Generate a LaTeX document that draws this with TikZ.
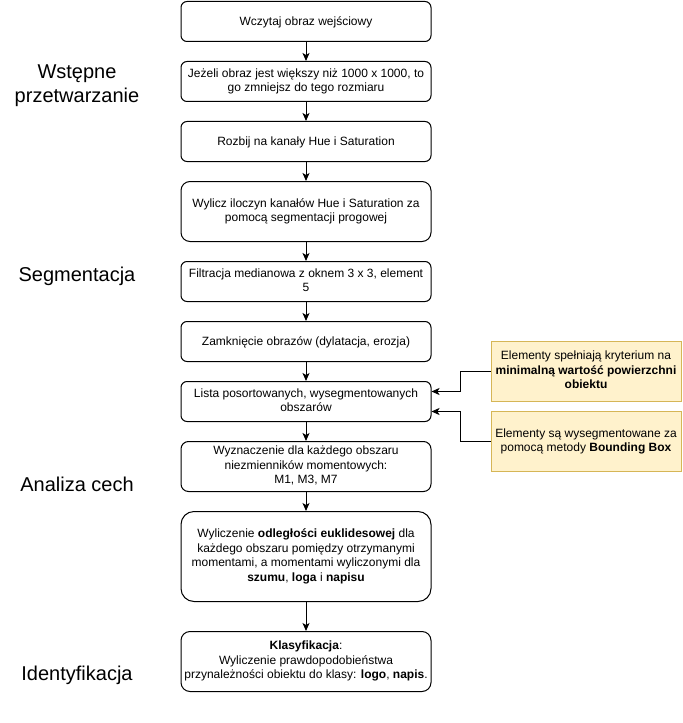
\documentclass[tikz,border=0pt]{standalone}
\usepackage{fontspec}
\setmainfont{Liberation Sans}
\usepackage{tikz}
\usetikzlibrary{arrows.meta,positioning}

\definecolor{notefill}{HTML}{FFF2CC}
\definecolor{notedraw}{HTML}{D6B656}

\begin{document}
\begin{tikzpicture}[x=1bp, y=-1bp, line width=1bp,
        line box/.style = {execute at begin node={\rule{0pt}{11.4bp}},
                           execute at end node={\rule[-3bp]{0pt}{0pt}}},
        step box/.style = {draw, rounded corners=6bp, minimum width=250bp, minimum height=40bp,
                           align=center, inner sep=2bp, line box, font=\fontsize{12bp}{14.4bp}\selectfont},
        note box/.style = {draw=notedraw, fill=notefill, minimum width=190bp, minimum height=60bp,
                           align=center, inner sep=2bp, line box, font=\fontsize{12bp}{14.4bp}\selectfont},
        stage/.style = {align=center, anchor=base, font=\fontsize{20bp}{24bp}\selectfont},
        arr/.style = {-{Stealth[length=8bp, width=7bp, inset=2bp]}}]
    \useasboundingbox (0,0) rectangle (683,723);
    % stages
    \node [stage] (pre) at (77,102.5) {Wstępne\\przetwarzanie};
    \node [stage] (seg) at (77,281.7) {Segmentacja};
    \node [stage] (cech) at (77,491.7) {Analiza cech};
    \node [stage] (ident) at (77,680.7) {Identyfikacja};
    % main flow
    \node [step box] (load) at (306,21.5) {Wczytaj obraz wejściowy};
    \node [step box] (resize) at (306,81.5) {Jeżeli obraz jest większy niż 1000 x 1000, to\\go zmniejsz do tego rozmiaru};
    \node [step box] (split) at (306,141.5) {Rozbij na kanały Hue i Saturation};
    \node [step box, minimum height=60bp, rounded corners=9bp] (thresh) at (306,211.5) {Wylicz iloczyn kanałów Hue i Saturation za\\pomocą segmentacji progowej};
    \node [step box] (median) at (306,281.5) {Filtracja medianowa z oknem 3 x 3, element\\5};
    \node [step box] (closing) at (306,341.5) {Zamknięcie obrazów (dylatacja, erozja)};
    \node [step box] (list) at (306,401.5) {Lista posortowanych, wysegmentowanych\\obszarów};
    \node [step box, minimum height=50bp, rounded corners=7.5bp] (moments) at (306,466.5) {Wyznaczenie dla każdego obszaru\\niezmienników momentowych:\\M1, M3, M7};
    \node [step box, minimum height=90bp, rounded corners=13bp] (dist) at (306,556.5) {Wyliczenie \textbf{odległości euklidesowej} dla\\każdego obszaru pomiędzy otrzymanymi\\momentami, a momentami wyliczonymi dla\\\textbf{szumu}, \textbf{loga} i \textbf{napisu}};
    \node [step box, minimum height=60bp, rounded corners=9bp] (classify) at (306,661.5) {\textbf{Klasyfikacja}:\\Wyliczenie prawdopodobieństwa\\przynależności obiektu do klasy: \textbf{logo}, \textbf{napis}.};
    % notes
    \node [note box] (area) at (586,371.5) {Elementy spełniają kryterium na\\\textbf{minimalną wartość powierzchni}\\\textbf{obiektu}};
    \node [note box] (bbox) at (586,441.5) {Elementy są wysegmentowane za\\pomocą metody \textbf{Bounding Box}};
    % connectors
    \draw [arr] (load) -- (resize);
    \draw [arr] (resize) -- (split);
    \draw [arr] (split) -- (thresh);
    \draw [arr] (thresh) -- (median);
    \draw [arr] (median) -- (closing);
    \draw [arr] (closing) -- (list);
    \draw [arr] (list) -- (moments);
    \draw [arr] (moments) -- (dist);
    \draw [arr] (dist) -- (classify);
    \draw [arr] (area.west) -- ++(-30,0) |- ([yshift=10bp]list.east);
    \draw [arr] (bbox.west) -- ++(-30,0) |- ([yshift=-10bp]list.east);
\end{tikzpicture}
\end{document}
